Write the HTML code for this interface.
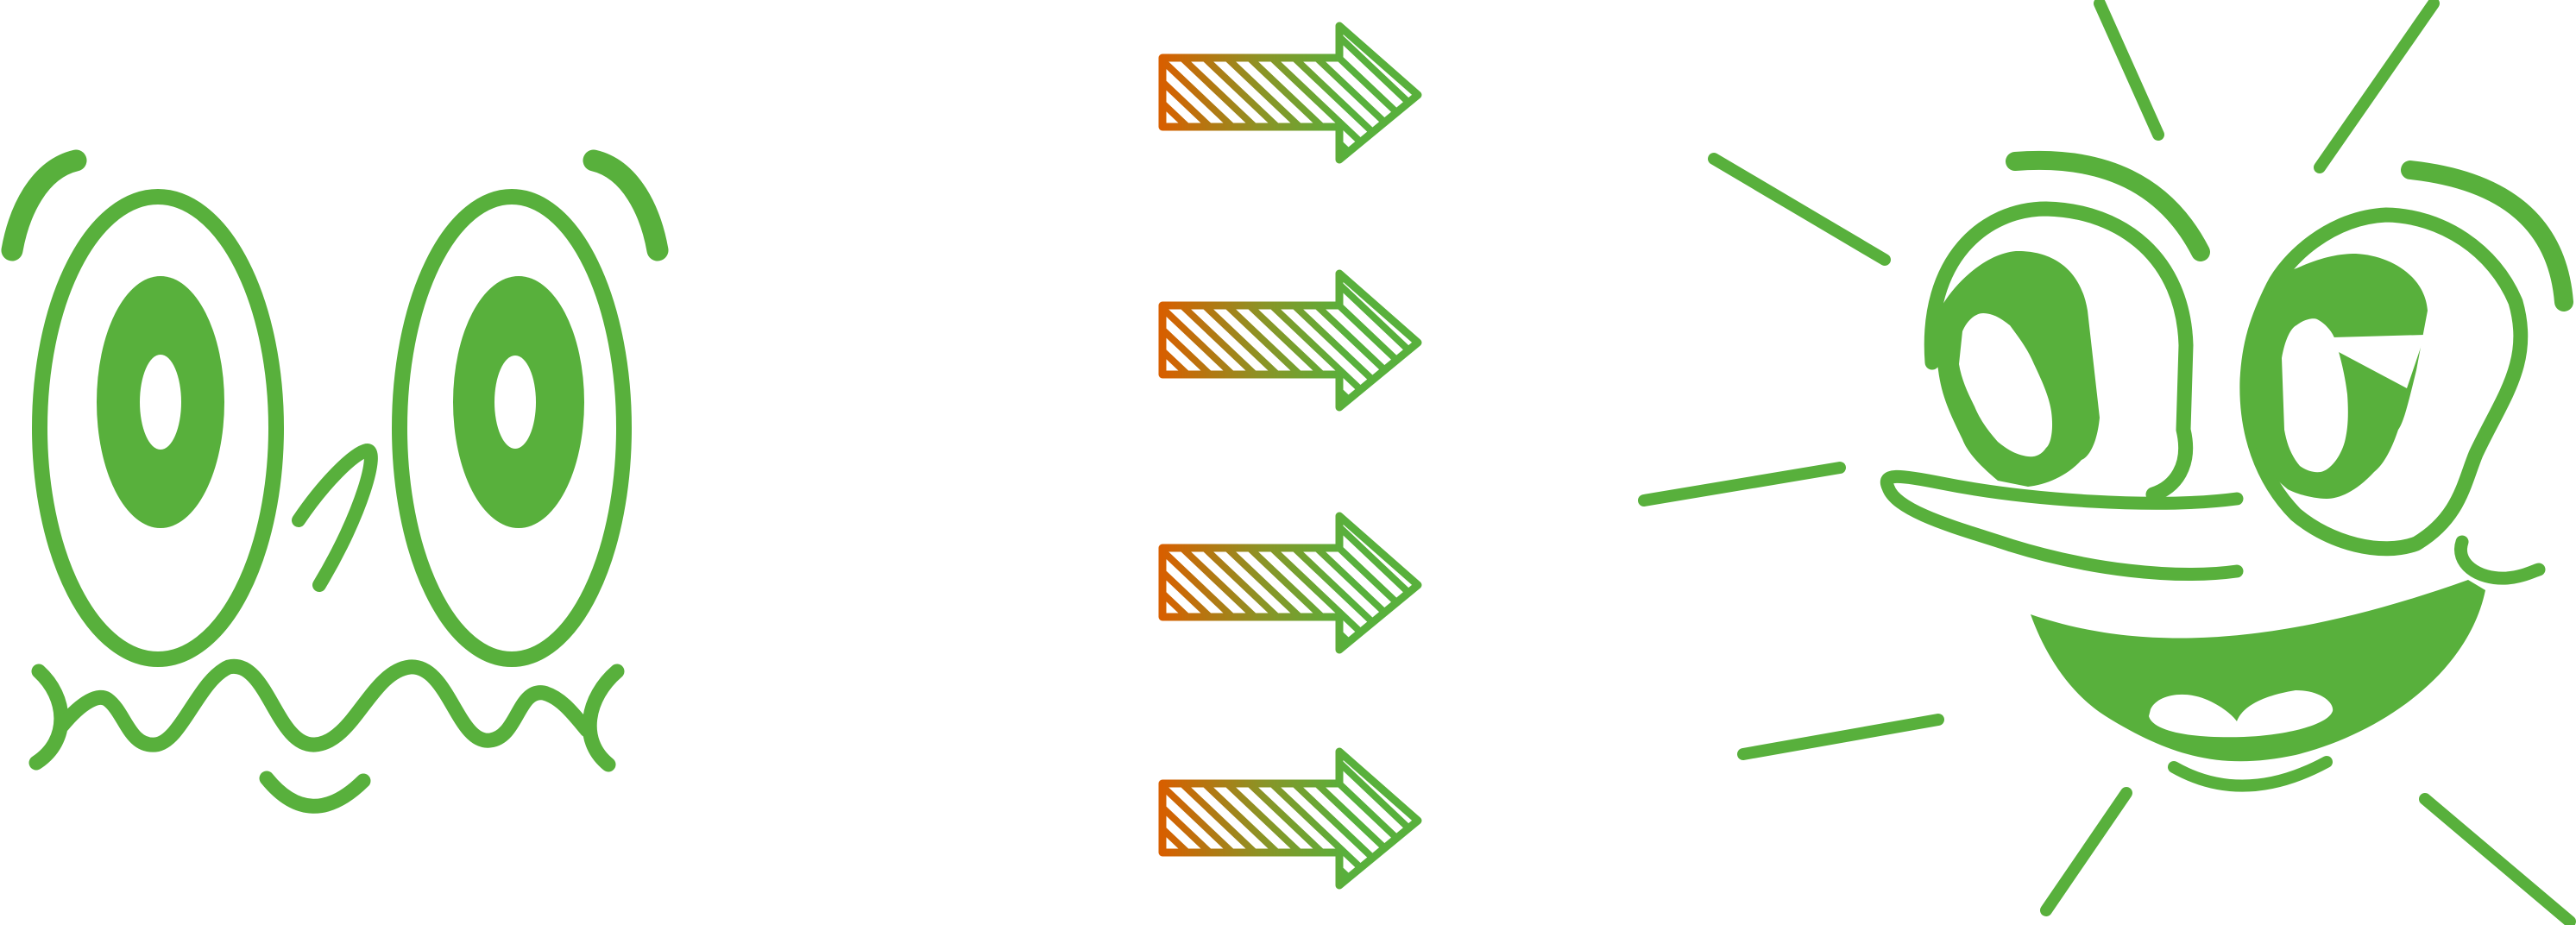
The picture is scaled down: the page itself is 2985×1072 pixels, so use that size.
<!DOCTYPE html>
<html><head><meta charset="utf-8"><style>html,body{margin:0;padding:0;background:#fff}svg{display:block}</style></head>
<body>
<svg xmlns="http://www.w3.org/2000/svg" width="2985" height="1072" viewBox="0 0 2985 1072">
<defs>
<linearGradient id="ag" gradientUnits="userSpaceOnUse" x1="1347" y1="0" x2="1560" y2="0">
<stop offset="0" stop-color="#d75f00"/><stop offset="0.55" stop-color="#8a9426"/><stop offset="1" stop-color="#58b03c"/>
</linearGradient>
<clipPath id="ac"><path d="M1347,67 L1552,67 L1552,30 L1643,110 L1552,185 L1552,147 L1347,147 Z"/></clipPath>
<g id="arrow">
<g clip-path="url(#ac)" stroke="url(#ag)" stroke-width="8" fill="none">
<path d="M1190,20 l190,180 M1216,20 l190,180 M1242,20 l190,180 M1268,20 l190,180 M1294,20 l190,180 M1320,20 l190,180 M1346,20 l190,180 M1372,20 l190,180 M1398,20 l190,180 M1424,20 l190,180 M1450,20 l190,180 M1476,20 l190,180 M1502,20 l190,180 M1528,20 l190,180 M1554,20 l190,180 M1580,20 l190,180 M1606,20 l190,180 M1632,20 l190,180"/>
</g>
<path d="M1347,67 L1552,67 L1552,30 L1643,110 L1552,185 L1552,147 L1347,147 Z" fill="none" stroke="url(#ag)" stroke-width="9" stroke-linejoin="round"/>
</g>
</defs>

<!-- LEFT FACE -->
<g fill="none" stroke="#58b03c" stroke-linecap="round">
<ellipse cx="183" cy="496" rx="137" ry="268" stroke-width="18"/>
<ellipse cx="593" cy="496" rx="130" ry="268" stroke-width="18"/>
<path d="M88,186 C45,196 22,245 14,290" stroke-width="25"/>
<path d="M688,186 C731,196 754,245 762,290" stroke-width="25"/>
<path d="M346,603 C375,560 410,525 425,522 C440,520 420,595 370,678" stroke-width="16"/>
<path d="M45,778 C78,808 82,858 42,884" stroke-width="17"/>
<path d="M72,841 C95,813 115,803 125,811 C145,826 150,866 180,863 C210,860 230,788 265,773 C310,763 320,866 365,863 C410,860 430,778 475,773 C520,770 530,863 568,858 C600,854 600,798 630,803 C650,808 665,828 680,846" stroke-width="17"/>
<path d="M715,778 C680,808 670,858 705,886" stroke-width="17"/>
<path d="M309,902 Q360,965 421,905" stroke-width="17"/>
</g>
<g fill="#58b03c">
<ellipse cx="186" cy="466" rx="74" ry="146"/>
<ellipse cx="601" cy="466" rx="76" ry="146"/>
</g>
<g fill="#fff">
<ellipse cx="186" cy="466" rx="24" ry="55"/>
<ellipse cx="597" cy="466" rx="24" ry="54"/>
</g>

<!-- ARROWS -->
<use href="#arrow"/>
<use href="#arrow" transform="translate(0,287)"/>
<use href="#arrow" transform="translate(0,568)"/>
<use href="#arrow" transform="translate(0,841)"/>

<!-- RIGHT FACE -->
<g fill="none" stroke="#58b03c" stroke-linecap="round" stroke-linejoin="round">
<path d="M2433,4 L2501,156" stroke-width="14"/>
<path d="M2820,4 L2688,194" stroke-width="14"/>
<path d="M1986,184 L2184,301" stroke-width="14"/>
<path d="M1905,580 L2132,542" stroke-width="14"/>
<path d="M2020,874 L2246,834" stroke-width="14"/>
<path d="M2371,1055 L2464,919" stroke-width="14"/>
<path d="M2810,926 L2978,1068" stroke-width="14"/>
<path d="M2335,187 Q2490,175 2550,292" stroke-width="22"/>
<path d="M2793,197 Q2960,215 2971,350" stroke-width="22"/>
<path d="M2239,420 C2230,300 2300,242 2371,242 C2460,244 2530,300 2533,400 L2530,498 C2540,540 2520,565 2495,573" stroke-width="17"/>
<path d="M2634,332 C2650,300 2700,252 2765,249 C2830,250 2890,290 2915,350 C2935,420 2900,460 2869,526 C2855,560 2850,600 2800,630 C2760,645 2700,630 2660,596 C2620,555 2602,500 2604,440 C2606,400 2615,370 2634,332" stroke-width="17"/>
<path d="M2592,578 C2500,590 2350,580 2250,560 C2200,550 2180,548 2188,565 C2198,595 2280,615 2330,632 C2420,660 2520,672 2592,662" stroke-width="15"/>
<path d="M2853,628 C2845,652 2870,672 2905,670 C2925,668 2935,662 2942,660" stroke-width="15"/>
<path d="M2519,889 Q2600,935 2696,883" stroke-width="14"/>
</g>
<g fill="#58b03c">
<path d="M2239,381 C2245,350 2290,295 2336,291 C2370,290 2410,305 2419,360 L2433,484 C2430,515 2420,530 2412,533 C2395,552 2370,562 2350,564 L2315,557 C2295,540 2280,525 2274,509 C2260,480 2250,460 2246,429 Z"/>
<path d="M2606,429 C2610,390 2618,360 2627,346 C2640,325 2655,312 2661,311 C2690,298 2710,294 2730,294 C2770,296 2810,320 2813,360 L2800,429 C2790,470 2785,490 2779,498 C2770,525 2760,540 2751,547 C2730,570 2710,578 2696,578 C2680,578 2660,572 2651,567 C2630,550 2615,530 2613,512 Z"/>
<path d="M2353,712 C2450,745 2600,765 2860,672 L2880,684 C2860,780 2760,850 2660,875 C2580,892 2520,880 2440,830 C2400,805 2370,760 2353,712 Z"/>
</g>
<g fill="#fff">
<path d="M2274,384 C2280,370 2290,363 2298,363 C2310,363 2320,370 2329,377 C2340,392 2350,405 2357,422 C2368,445 2375,462 2377,477 C2380,500 2376,515 2371,519 C2365,528 2357,530 2350,529 C2335,527 2325,520 2315,512 C2300,495 2293,483 2288,471 C2280,455 2273,440 2270,422 Z"/>
<path d="M2644,415 C2648,392 2655,380 2661,377 C2670,370 2680,368 2685,370 C2695,375 2703,385 2706,394 C2714,420 2718,440 2720,457 C2722,485 2720,500 2717,512 C2712,530 2700,545 2689,547 C2680,548 2672,545 2665,540 C2655,528 2650,515 2647,498 Z"/>
<path d="M2703,391 L2810,388 L2789,450 L2710,408 Z"/>
<path d="M2492,822 C2500,805 2530,800 2555,810 C2575,818 2588,830 2592,836 C2600,815 2630,805 2660,800 C2690,800 2705,815 2703,824 C2698,840 2650,852 2600,854 C2540,856 2495,848 2490,830 Z"/>
</g>
</svg>
</body></html>
